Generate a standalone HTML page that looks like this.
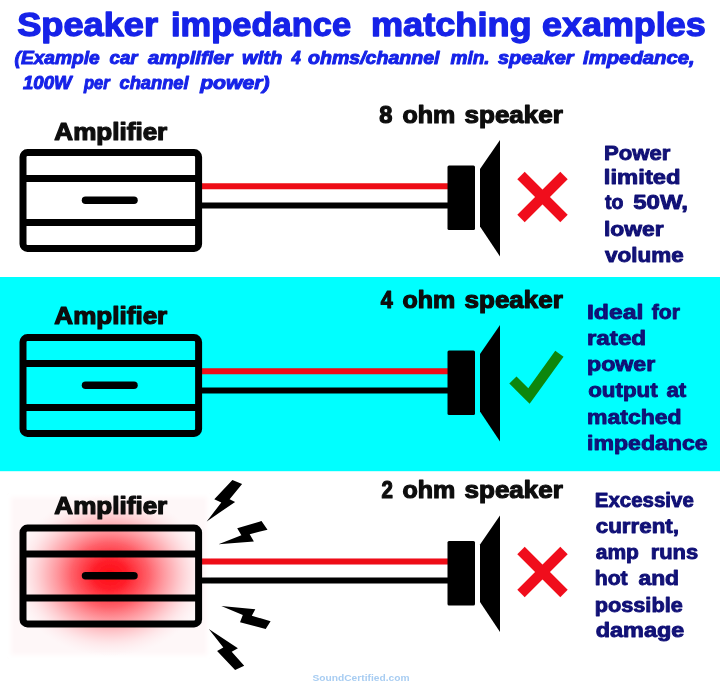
<!DOCTYPE html>
<html>
<head>
<meta charset="utf-8">
<title>Speaker impedance matching examples</title>
<style>
html,body{margin:0;padding:0;background:#ffffff;}
body{width:720px;height:688px;overflow:hidden;font-family:"Liberation Sans",sans-serif;}
svg{display:block;}
text{font-family:"Liberation Sans",sans-serif;font-weight:bold;}
.t1{fill:#1a24ee;}
.lab{fill:#0a0a0a;}
.nv{fill:#17178c;}
</style>
</head>
<body>
<svg width="720" height="688" viewBox="0 0 720 688">
<defs>
<radialGradient id="glow" cx="0.5" cy="0.5" r="0.5">
<stop offset="0" stop-color="#ff0a14" stop-opacity="1"/>
<stop offset="0.18" stop-color="#ff1420" stop-opacity="0.95"/>
<stop offset="0.4" stop-color="#ff2834" stop-opacity="0.72"/>
<stop offset="0.65" stop-color="#ff5560" stop-opacity="0.4"/>
<stop offset="0.85" stop-color="#ff8a94" stop-opacity="0.14"/>
<stop offset="1" stop-color="#ffc0c8" stop-opacity="0"/>
</radialGradient>
<filter id="soft" x="-10%" y="-10%" width="120%" height="120%"><feGaussianBlur stdDeviation="2"/></filter>
<filter id="pg" filterUnits="userSpaceOnUse" x="-10" y="-10" width="740" height="708"><feGaussianBlur stdDeviation="0.45"/></filter>
<g id="amp">
<rect x="23" y="3.6" width="175.6" height="95.8" rx="4.5" ry="4.5" fill="none" stroke="#050505" stroke-width="7"/>
<line x1="22" y1="29.6" x2="200" y2="29.6" stroke="#050505" stroke-width="7"/>
<line x1="22" y1="73.4" x2="200" y2="73.4" stroke="#050505" stroke-width="7"/>
<line x1="85.5" y1="51.3" x2="134" y2="51.3" stroke="#050505" stroke-width="7.5" stroke-linecap="round"/>
</g>
<g id="spk">
<rect x="447.5" y="25" width="27.5" height="64.5" rx="1.5" fill="#050505"/>
<polygon points="480,28.5 500,-0.5 500,116 480,86" fill="#050505"/>
</g>
<g id="xx">
<line x1="-21.5" y1="-21.5" x2="21.5" y2="21.5" stroke="#f0101c" stroke-width="10.5"/>
<line x1="-21.5" y1="21.5" x2="21.5" y2="-21.5" stroke="#f0101c" stroke-width="10.5"/>
</g>
</defs>

<rect x="0" y="0" width="720" height="688" fill="#ffffff"/>
<g filter="url(#pg)">
<rect x="-5" y="277" width="730" height="194.2" fill="#00ffff"/>

<!-- header -->

<!-- section 1 -->
<line x1="202" y1="186.3" x2="450" y2="186.3" stroke="#ee0a14" stroke-width="6"/>
<line x1="202" y1="205.5" x2="450" y2="205.5" stroke="#050505" stroke-width="6"/>
<use href="#amp" x="0" y="149"/>
<use href="#spk" x="0" y="140.5"/>
<use href="#xx" x="542.5" y="197"/>

<!-- section 2 -->
<line x1="202" y1="371.3" x2="450" y2="371.3" stroke="#ee0a14" stroke-width="6"/>
<line x1="202" y1="390.5" x2="450" y2="390.5" stroke="#050505" stroke-width="6"/>
<use href="#amp" x="0" y="334"/>
<use href="#spk" x="0" y="325.5"/>
<polyline points="512.9,380 529,396 559.4,353.7" fill="none" stroke="#0d870d" stroke-width="10.2"/>

<!-- section 3 -->
<rect x="11" y="497" width="196" height="158" fill="#fef7f8" filter="url(#soft)"/>
<ellipse cx="110" cy="575" rx="97" ry="81" fill="url(#glow)"/>
<line x1="202" y1="561.5" x2="450" y2="561.5" stroke="#ee0a14" stroke-width="6"/>
<line x1="202" y1="580.5" x2="450" y2="580.5" stroke="#050505" stroke-width="6"/>
<use href="#amp" x="0" y="524.5"/>
<use href="#spk" x="0" y="516"/>
<use href="#xx" x="542.5" y="572"/>
<polygon fill="#050505" points="232.4,480 242.1,483.9 229.6,499.2 235.1,501.9 206.7,521.4 221.3,502.6 214.3,499.2"/>
<polygon fill="#050505" points="261.5,521.1 267.5,529.7 249.7,534.2 253.9,541.5 218.5,544.3 241.4,535.3 237.2,528.3"/>
<polygon fill="#050505" points="221.3,606 255.3,609.2 251.8,615.7 270.6,621.3 265.7,628.9 240,622.2 242.8,615"/>
<polygon fill="#050505" points="208.8,628.9 237.9,648.3 231.7,651.8 244.2,665.7 235.1,669.9 217.1,651.1 223.3,647.6"/>

<!-- right texts -->

<text x="17.15" y="36.10" font-size="32.8" fill="#1424e8" textLength="140.94" lengthAdjust="spacingAndGlyphs" stroke="#1424e8" stroke-width="1.3" stroke-linejoin="round">Speaker</text>
<text x="171.05" y="36.10" font-size="32.8" fill="#1424e8" textLength="180.05" lengthAdjust="spacingAndGlyphs" stroke="#1424e8" stroke-width="1.3" stroke-linejoin="round">impedance</text>
<text x="370.95" y="36.10" font-size="32.8" fill="#1424e8" textLength="160.65" lengthAdjust="spacingAndGlyphs" stroke="#1424e8" stroke-width="1.3" stroke-linejoin="round">matching</text>
<text x="542.06" y="36.10" font-size="32.8" fill="#1424e8" textLength="163.65" lengthAdjust="spacingAndGlyphs" stroke="#1424e8" stroke-width="1.3" stroke-linejoin="round">examples</text>
<text x="14.50" y="64.30" font-size="18.3" fill="#1424e8" textLength="85.18" lengthAdjust="spacingAndGlyphs" font-style="italic" stroke="#1424e8" stroke-width="1.0" stroke-linejoin="round">(Example</text>
<text x="109.50" y="64.30" font-size="18.3" fill="#1424e8" textLength="28.09" lengthAdjust="spacingAndGlyphs" font-style="italic" stroke="#1424e8" stroke-width="1.0" stroke-linejoin="round">car</text>
<text x="148.00" y="64.30" font-size="18.3" fill="#1424e8" textLength="84.52" lengthAdjust="spacingAndGlyphs" font-style="italic" stroke="#1424e8" stroke-width="1.0" stroke-linejoin="round">amplifier</text>
<text x="242.00" y="64.30" font-size="18.3" fill="#1424e8" textLength="40.18" lengthAdjust="spacingAndGlyphs" font-style="italic" stroke="#1424e8" stroke-width="1.0" stroke-linejoin="round">with</text>
<text x="291.41" y="64.30" font-size="18.3" fill="#1424e8" textLength="9.24" lengthAdjust="spacingAndGlyphs" font-style="italic" stroke="#1424e8" stroke-width="1.0" stroke-linejoin="round">4</text>
<text x="308.00" y="64.30" font-size="18.3" fill="#1424e8" textLength="131.51" lengthAdjust="spacingAndGlyphs" font-style="italic" stroke="#1424e8" stroke-width="1.0" stroke-linejoin="round">ohms/channel</text>
<text x="450.50" y="64.30" font-size="18.3" fill="#1424e8" textLength="39.12" lengthAdjust="spacingAndGlyphs" font-style="italic" stroke="#1424e8" stroke-width="1.0" stroke-linejoin="round">min.</text>
<text x="498.00" y="64.30" font-size="18.3" fill="#1424e8" textLength="75.53" lengthAdjust="spacingAndGlyphs" font-style="italic" stroke="#1424e8" stroke-width="1.0" stroke-linejoin="round">speaker</text>
<text x="583.00" y="64.30" font-size="18.3" fill="#1424e8" textLength="111.70" lengthAdjust="spacingAndGlyphs" font-style="italic" stroke="#1424e8" stroke-width="1.0" stroke-linejoin="round">impedance,</text>
<text x="23.00" y="89.30" font-size="18.3" fill="#1424e8" textLength="48.72" lengthAdjust="spacingAndGlyphs" font-style="italic" stroke="#1424e8" stroke-width="1.0" stroke-linejoin="round">100W</text>
<text x="83.91" y="89.30" font-size="18.3" fill="#1424e8" textLength="25.79" lengthAdjust="spacingAndGlyphs" font-style="italic" stroke="#1424e8" stroke-width="1.0" stroke-linejoin="round">per</text>
<text x="119.50" y="89.30" font-size="18.3" fill="#1424e8" textLength="69.08" lengthAdjust="spacingAndGlyphs" font-style="italic" stroke="#1424e8" stroke-width="1.0" stroke-linejoin="round">channel</text>
<text x="200.16" y="89.30" font-size="18.3" fill="#1424e8" textLength="69.44" lengthAdjust="spacingAndGlyphs" font-style="italic" stroke="#1424e8" stroke-width="1.0" stroke-linejoin="round">power)</text>
<text x="54.35" y="139.50" font-size="24" fill="#0a0a0a" textLength="112.92" lengthAdjust="spacingAndGlyphs" stroke="#0a0a0a" stroke-width="1.2" stroke-linejoin="round">Amplifier</text>
<text x="54.35" y="323.90" font-size="24" fill="#0a0a0a" textLength="112.92" lengthAdjust="spacingAndGlyphs" stroke="#0a0a0a" stroke-width="1.2" stroke-linejoin="round">Amplifier</text>
<text x="54.35" y="513.90" font-size="24" fill="#0a0a0a" textLength="112.92" lengthAdjust="spacingAndGlyphs" stroke="#0a0a0a" stroke-width="1.2" stroke-linejoin="round">Amplifier</text>
<text x="379.30" y="123.20" font-size="24" fill="#0a0a0a" textLength="13.14" lengthAdjust="spacingAndGlyphs" stroke="#0a0a0a" stroke-width="1.2" stroke-linejoin="round">8</text>
<text x="380.80" y="307.70" font-size="24" fill="#0a0a0a" textLength="12.01" lengthAdjust="spacingAndGlyphs" stroke="#0a0a0a" stroke-width="1.2" stroke-linejoin="round">4</text>
<text x="381.60" y="498.30" font-size="24" fill="#0a0a0a" textLength="11.40" lengthAdjust="spacingAndGlyphs" stroke="#0a0a0a" stroke-width="1.2" stroke-linejoin="round">2</text>
<text x="402.60" y="123.20" font-size="24" fill="#0a0a0a" textLength="52.69" lengthAdjust="spacingAndGlyphs" stroke="#0a0a0a" stroke-width="1.2" stroke-linejoin="round">ohm</text>
<text x="464.60" y="123.20" font-size="24" fill="#0a0a0a" textLength="98.17" lengthAdjust="spacingAndGlyphs" stroke="#0a0a0a" stroke-width="1.2" stroke-linejoin="round">speaker</text>
<text x="402.60" y="307.70" font-size="24" fill="#0a0a0a" textLength="52.69" lengthAdjust="spacingAndGlyphs" stroke="#0a0a0a" stroke-width="1.2" stroke-linejoin="round">ohm</text>
<text x="464.60" y="307.70" font-size="24" fill="#0a0a0a" textLength="98.17" lengthAdjust="spacingAndGlyphs" stroke="#0a0a0a" stroke-width="1.2" stroke-linejoin="round">speaker</text>
<text x="402.60" y="498.30" font-size="24" fill="#0a0a0a" textLength="52.69" lengthAdjust="spacingAndGlyphs" stroke="#0a0a0a" stroke-width="1.2" stroke-linejoin="round">ohm</text>
<text x="464.60" y="498.30" font-size="24" fill="#0a0a0a" textLength="98.17" lengthAdjust="spacingAndGlyphs" stroke="#0a0a0a" stroke-width="1.2" stroke-linejoin="round">speaker</text>
<text x="603.95" y="159.80" font-size="20.2" fill="#121276" textLength="66.44" lengthAdjust="spacingAndGlyphs" stroke="#121276" stroke-width="0.9" stroke-linejoin="round">Power</text>
<text x="603.87" y="183.80" font-size="20.2" fill="#121276" textLength="76.75" lengthAdjust="spacingAndGlyphs" stroke="#121276" stroke-width="0.9" stroke-linejoin="round">limited</text>
<text x="605.05" y="209.30" font-size="20.2" fill="#121276" textLength="18.42" lengthAdjust="spacingAndGlyphs" stroke="#121276" stroke-width="0.9" stroke-linejoin="round">to</text>
<text x="633.15" y="209.30" font-size="20.2" fill="#121276" textLength="54.83" lengthAdjust="spacingAndGlyphs" stroke="#121276" stroke-width="0.9" stroke-linejoin="round">50W,</text>
<text x="603.92" y="235.70" font-size="20.2" fill="#121276" textLength="59.77" lengthAdjust="spacingAndGlyphs" stroke="#121276" stroke-width="0.9" stroke-linejoin="round">lower</text>
<text x="605.05" y="261.60" font-size="20.2" fill="#121276" textLength="78.75" lengthAdjust="spacingAndGlyphs" stroke="#121276" stroke-width="0.9" stroke-linejoin="round">volume</text>
<text x="586.92" y="318.50" font-size="20.2" fill="#121276" textLength="56.58" lengthAdjust="spacingAndGlyphs" stroke="#121276" stroke-width="0.9" stroke-linejoin="round">Ideal</text>
<text x="651.75" y="318.50" font-size="20.2" fill="#121276" textLength="28.25" lengthAdjust="spacingAndGlyphs" stroke="#121276" stroke-width="0.9" stroke-linejoin="round">for</text>
<text x="586.95" y="344.70" font-size="20.2" fill="#121276" textLength="59.20" lengthAdjust="spacingAndGlyphs" stroke="#121276" stroke-width="0.9" stroke-linejoin="round">rated</text>
<text x="587.00" y="370.90" font-size="20.2" fill="#121276" textLength="68.28" lengthAdjust="spacingAndGlyphs" stroke="#121276" stroke-width="0.9" stroke-linejoin="round">power</text>
<text x="588.15" y="396.80" font-size="20.2" fill="#121276" textLength="69.49" lengthAdjust="spacingAndGlyphs" stroke="#121276" stroke-width="0.9" stroke-linejoin="round">output</text>
<text x="666.45" y="396.80" font-size="20.2" fill="#121276" textLength="19.79" lengthAdjust="spacingAndGlyphs" stroke="#121276" stroke-width="0.9" stroke-linejoin="round">at</text>
<text x="587.01" y="423.60" font-size="20.2" fill="#121276" textLength="94.66" lengthAdjust="spacingAndGlyphs" stroke="#121276" stroke-width="0.9" stroke-linejoin="round">matched</text>
<text x="587.01" y="449.80" font-size="20.2" fill="#121276" textLength="120.60" lengthAdjust="spacingAndGlyphs" stroke="#121276" stroke-width="0.9" stroke-linejoin="round">impedance</text>
<text x="594.74" y="506.70" font-size="20.2" fill="#121276" textLength="99.04" lengthAdjust="spacingAndGlyphs" stroke="#121276" stroke-width="0.9" stroke-linejoin="round">Excessive</text>
<text x="595.75" y="532.90" font-size="20.2" fill="#121276" textLength="83.27" lengthAdjust="spacingAndGlyphs" stroke="#121276" stroke-width="0.9" stroke-linejoin="round">current,</text>
<text x="595.75" y="559.40" font-size="20.2" fill="#121276" textLength="43.14" lengthAdjust="spacingAndGlyphs" stroke="#121276" stroke-width="0.9" stroke-linejoin="round">amp</text>
<text x="650.66" y="559.40" font-size="20.2" fill="#121276" textLength="47.53" lengthAdjust="spacingAndGlyphs" stroke="#121276" stroke-width="0.9" stroke-linejoin="round">runs</text>
<text x="594.70" y="584.90" font-size="20.2" fill="#121276" textLength="32.96" lengthAdjust="spacingAndGlyphs" stroke="#121276" stroke-width="0.9" stroke-linejoin="round">hot</text>
<text x="638.45" y="584.90" font-size="20.2" fill="#121276" textLength="40.61" lengthAdjust="spacingAndGlyphs" stroke="#121276" stroke-width="0.9" stroke-linejoin="round">and</text>
<text x="594.67" y="611.80" font-size="20.2" fill="#121276" textLength="88.12" lengthAdjust="spacingAndGlyphs" stroke="#121276" stroke-width="0.9" stroke-linejoin="round">possible</text>
<text x="595.75" y="637.30" font-size="20.2" fill="#121276" textLength="88.46" lengthAdjust="spacingAndGlyphs" stroke="#121276" stroke-width="0.9" stroke-linejoin="round">damage</text>
<text x="312.50" y="681.00" font-size="9.5" fill="#a8cdf2" textLength="96.98" lengthAdjust="spacingAndGlyphs">SoundCertified.com</text>
</g>
</svg>
</body>
</html>
